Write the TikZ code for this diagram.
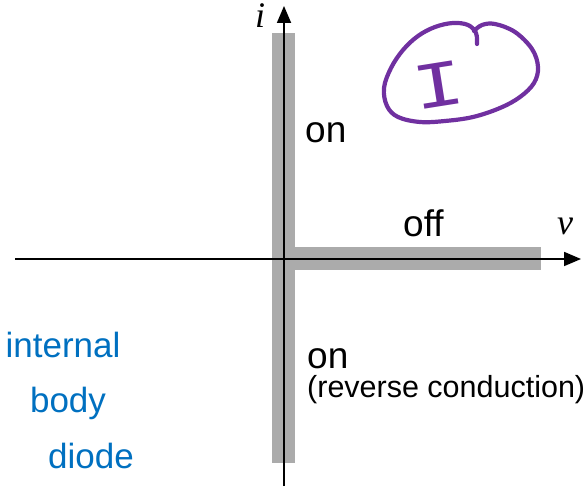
\documentclass[tikz,border=0pt]{standalone}
\usepackage{fontspec}
\setmainfont{Liberation Sans}
\newfontfamily\serifit{Liberation Serif}
\newfontfamily\monofont{Liberation Mono}
\usepackage{graphicx}
\usetikzlibrary{arrows.meta,positioning}

\definecolor{inkpurple}{HTML}{7030A0}
\definecolor{inkblue}{HTML}{0070C0}

\begin{document}
\begin{tikzpicture}[
    x=1pt, y=-1pt,
    axis/.style={
        -{Triangle[length=17pt,width=14pt]},
        draw=black,
        line width=1.8pt
    },
    band/.style={
        fill=black!33,
        draw=none
    },
    state/.style={
        font=\fontsize{37}{44}\selectfont,
        anchor=base west,
        inner sep=0pt
    },
    note/.style={
        font=\fontsize{30.5}{36}\selectfont,
        anchor=base west,
        inner sep=0pt
    },
    axlabel/.style={
        font=\fontsize{36}{40}\serifit\itshape,
        inner sep=0pt
    },
    ink/.style={
        draw=inkpurple,
        line width=4.2pt,
        line cap=round,
        line join=round
    },
    scrawl/.style={
        text=inkblue,
        font=\fontsize{35}{40}\selectfont,
        inner sep=0pt,
        anchor=base
    }
]

\useasboundingbox (0,0) rectangle (587,489);

% conduction bands
\fill[band] (272,33) rectangle (295,463);
\fill[band] (295,247) rectangle (541,270);

% axes
\coordinate (vbot) at (284,486);
\coordinate (vtop) at (284,6);
\coordinate (hleft) at (15,259);
\coordinate (hright) at (581,259);

\draw[axis] (vbot) -- (vtop);
\draw[axis] (hleft) -- (hright);

\node[axlabel] (ilabel) at (260,16) {i};
\node[axlabel] (vlabel) at (565,226) {v};

% states
\node[state] (upper) at (305,143) {on};
\node[state] (flat) at (403,237) {off};
\node[state] (lower) at (307,369) {on};
\node[note] (reverse) at (307,398) {(reverse conduction)};

% quadrant mark
\draw[ink] plot[smooth, tension=0.6] coordinates {(477,44) (476,33) (468,25) (453,23) (435,27) (418,36) (403,50) (391,68) (384,88) (387,106) (398,117) (420,122) (445,121) (473,117) (500,108) (520,97) (534,83) (538,67) (532,49) (515,32) (495,24) (482,25) (474,31)};
\node[text=inkpurple, rotate=9, inner sep=0pt, font=\fontsize{66}{70}\monofont] (quad) at (439,85) {\scalebox{1.3}[1]{I}};

% margin note
\node[scrawl] (internal) at (63,358) {internal};
\node[scrawl] (body) at (68,412) {body};
\node[scrawl] (diode) at (91,468) {diode};

\end{tikzpicture}
\end{document}
